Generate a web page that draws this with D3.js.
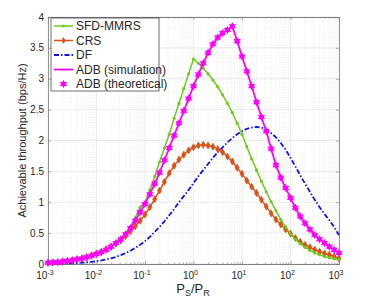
<!DOCTYPE html>
<html>
<head>
<meta charset="utf-8">
<script src="https://cdn.jsdelivr.net/npm/d3@7"></script>
<style>
  body { margin: 0; background: #fff; }
  svg { display: block; font-family: "Liberation Sans", Arial, sans-serif; }
  .tick-label { font-size: 10px; fill: #262626; }
</style>
</head>
<body>
<div id="vis"></div>
<script>
const frame_width = 374;
const frame_height = 305;
const plot = {left: 48, right: 339, top: 17, bottom: 264};

// P_S/P_R sampled in 1 dB steps, from -30 dB to 30 dB
const ratio_db = d3.range(-30, 31);

const sfd_mmrs = [
  0.02, 0.025, 0.03, 0.04, 0.05, 0.06, 0.075, 0.09, 0.11, 0.14,
  0.17, 0.2, 0.24, 0.29, 0.35, 0.42, 0.5, 0.61, 0.75, 0.92,
  1.0, 1.2, 1.42, 1.65, 1.88, 2.1, 2.36, 2.6, 2.84, 3.08,
  3.32, 3.25, 3.17, 3.08, 2.98, 2.87, 2.74, 2.6, 2.45, 2.28,
  2.1, 1.9, 1.7, 1.52, 1.34, 1.17, 1.01, 0.86, 0.72, 0.6,
  0.48, 0.4, 0.33, 0.27, 0.22, 0.18, 0.15, 0.12, 0.1, 0.085,
  0.07
];
const crs = [
  0.02, 0.025, 0.03, 0.04, 0.05, 0.06, 0.075, 0.09, 0.11, 0.14,
  0.17, 0.2, 0.24, 0.28, 0.33, 0.38, 0.45, 0.53, 0.61, 0.7,
  0.8, 0.92, 1.05, 1.19, 1.33, 1.47, 1.59, 1.69, 1.77, 1.84,
  1.89, 1.92, 1.93, 1.92, 1.9, 1.86, 1.81, 1.74, 1.66, 1.56,
  1.46, 1.35, 1.25, 1.15, 1.04, 0.93, 0.82, 0.72, 0.64, 0.56,
  0.49, 0.42, 0.36, 0.31, 0.27, 0.23, 0.2, 0.17, 0.15, 0.12,
  0.09
];
const df = [
  0.003, 0.004, 0.005, 0.007, 0.009, 0.012, 0.016, 0.021, 0.028, 0.036,
  0.046, 0.058, 0.073, 0.092, 0.115, 0.143, 0.176, 0.215, 0.26, 0.31,
  0.37, 0.44, 0.52, 0.6, 0.69, 0.79, 0.89, 1.0, 1.1, 1.2,
  1.31, 1.42, 1.52, 1.62, 1.72, 1.81, 1.89, 1.97, 2.04, 2.1,
  2.15, 2.19, 2.21, 2.22, 2.21, 2.18, 2.12, 2.05, 1.96, 1.85,
  1.72, 1.58, 1.44, 1.3, 1.17, 1.04, 0.92, 0.81, 0.71, 0.6,
  0.47
];
const adb = [
  0.02, 0.025, 0.03, 0.04, 0.05, 0.06, 0.075, 0.09, 0.11, 0.135,
  0.16, 0.19, 0.23, 0.28, 0.34, 0.4, 0.48, 0.58, 0.7, 0.84,
  0.97, 1.13, 1.3, 1.48, 1.68, 1.88, 2.08, 2.28, 2.48, 2.68,
  2.88, 3.07, 3.25, 3.42, 3.56, 3.67, 3.74, 3.79, 3.85, 3.61,
  3.36, 3.12, 2.88, 2.62, 2.38, 2.15, 1.87, 1.6, 1.4, 1.23,
  1.07, 0.91, 0.77, 0.66, 0.56, 0.47, 0.4, 0.34, 0.28, 0.23,
  0.18
];

const x_ticks = [-3, -2, -1, 0, 1, 2, 3];
const y_ticks = [0, 0.5, 1, 1.5, 2, 2.5, 3, 3.5, 4];
const legend_labels = ["SFD-MMRS", "CRS", "DF", "ADB (simulation)", "ADB (theoretical)"];

const colors = {green: "#6ccc1c", orange: "#d95319", blue: "#1010f0", magenta: "#ff00ff"};

const FRAME = d3.select("#vis")
  .append("svg")
    .attr("width", frame_width)
    .attr("height", frame_height);

const x_scale = d3.scaleLog()
  .domain([1e-3, 1e3])
  .range([plot.left, plot.right]);

const y_scale = d3.scaleLinear()
  .domain([0, 4])
  .range([plot.bottom, plot.top]);

const xs = ratio_db.map(d => Math.pow(10, d / 10));

// grid: minor (dotted) then major
const minor = [];
x_ticks.slice(0, -1).forEach(e => {
  for (let m = 2; m < 10; m++) minor.push(m * Math.pow(10, e));
});
FRAME.append("g").selectAll("line")
  .data(minor).enter().append("line")
    .attr("x1", d => x_scale(d)).attr("x2", d => x_scale(d))
    .attr("y1", plot.top).attr("y2", plot.bottom)
    .attr("stroke", "#dcdcdc").attr("stroke-width", 0.6)
    .attr("stroke-dasharray", "1,1.5");

FRAME.append("g").selectAll("line")
  .data(x_ticks).enter().append("line")
    .attr("x1", d => x_scale(Math.pow(10, d))).attr("x2", d => x_scale(Math.pow(10, d)))
    .attr("y1", plot.top).attr("y2", plot.bottom)
    .attr("stroke", "#e2e2e2").attr("stroke-width", 0.7);

FRAME.append("g").selectAll("line")
  .data(y_ticks).enter().append("line")
    .attr("x1", plot.left).attr("x2", plot.right)
    .attr("y1", d => y_scale(d)).attr("y2", d => y_scale(d))
    .attr("stroke", "#e2e2e2").attr("stroke-width", 0.7);

// axes
const axis_color = "#7a7a7a";
const x_axis = FRAME.append("g")
  .attr("transform", "translate(0," + plot.bottom + ")")
  .call(d3.axisBottom(x_scale).tickValues(x_ticks.map(e => Math.pow(10, e))).tickSize(-3).tickFormat(""));
const x_axis_top = FRAME.append("g")
  .attr("transform", "translate(0," + plot.top + ")")
  .call(d3.axisTop(x_scale).tickValues(x_ticks.map(e => Math.pow(10, e))).tickSize(-3).tickFormat(""));
const x_minor_b = FRAME.append("g")
  .attr("transform", "translate(0," + plot.bottom + ")")
  .call(d3.axisBottom(x_scale).tickValues(minor).tickSize(-1.5).tickFormat(""));
const x_minor_t = FRAME.append("g")
  .attr("transform", "translate(0," + plot.top + ")")
  .call(d3.axisTop(x_scale).tickValues(minor).tickSize(-1.5).tickFormat(""));
const y_axis = FRAME.append("g")
  .attr("transform", "translate(" + plot.left + ",0)")
  .call(d3.axisLeft(y_scale).tickValues(y_ticks).tickSize(-3).tickFormat(""));
const y_axis_r = FRAME.append("g")
  .attr("transform", "translate(" + plot.right + ",0)")
  .call(d3.axisRight(y_scale).tickValues(y_ticks).tickSize(-3).tickFormat(""));

[x_axis, x_axis_top, x_minor_b, x_minor_t, y_axis, y_axis_r].forEach(g => {
  g.selectAll("path").attr("stroke", axis_color).attr("stroke-width", 0.8);
  g.selectAll("line").attr("stroke", axis_color).attr("stroke-width", 0.6);
});

// tick labels
x_ticks.forEach(e => {
  const t = FRAME.append("text")
    .attr("class", "tick-label")
    .attr("x", x_scale(Math.pow(10, e)) - 3)
    .attr("y", plot.bottom + 15)
    .attr("text-anchor", "middle");
  t.append("tspan").text("10");
  t.append("tspan").attr("dy", -4).attr("font-size", "7px").text(e);
});

FRAME.append("g").selectAll("text")
  .data(y_ticks).enter().append("text")
    .attr("class", "tick-label")
    .attr("x", plot.left - 4)
    .attr("y", d => y_scale(d) + 3.5)
    .attr("text-anchor", "end")
    .text(d => d);

// axis titles
const xlab = FRAME.append("text")
  .attr("x", 193).attr("y", 293)
  .attr("text-anchor", "middle")
  .attr("font-size", "13px").attr("fill", "#262626");
xlab.append("tspan").text("P");
xlab.append("tspan").attr("dy", 3).attr("font-size", "9px").text("S");
xlab.append("tspan").attr("dy", -3).text("/P");
xlab.append("tspan").attr("dy", 3).attr("font-size", "9px").text("R");

FRAME.append("text")
  .attr("transform", "translate(26," + ((plot.top + plot.bottom) / 2) + ") rotate(-90)")
  .attr("text-anchor", "middle")
  .attr("font-size", "11px").attr("fill", "#262626")
  .text("Achievable throughput (bps/Hz)");

// series
const line = d3.line()
  .x((d, i) => x_scale(xs[i]))
  .y(d => y_scale(d));

const plot_g = FRAME.append("g");

function hexagram(r) {
  // six-pointed star
  const pts = [];
  for (let k = 0; k < 12; k++) {
    const rr = k % 2 === 0 ? r : r * 0.55;
    const a = Math.PI / 2 + k * Math.PI / 6;
    pts.push([rr * Math.cos(a), -rr * Math.sin(a)]);
  }
  return "M" + pts.map(p => p[0].toFixed(2) + "," + p[1].toFixed(2)).join("L") + "Z";
}
const star_path = hexagram(4.2);
const diamond_path = d3.symbol().type(d3.symbolDiamond).size(14)();

// DF (dash-dot)
plot_g.append("path")
  .attr("d", line(df))
  .attr("fill", "none").attr("stroke", colors.blue)
  .attr("stroke-width", 1.8).attr("stroke-dasharray", "5,2,1.5,2");

// CRS
plot_g.append("path")
  .attr("d", line(crs))
  .attr("fill", "none").attr("stroke", colors.orange).attr("stroke-width", 1.5);
plot_g.append("g").selectAll("path")
  .data(crs).enter().append("path")
    .attr("d", diamond_path)
    .attr("transform", (d, i) => "translate(" + x_scale(xs[i]) + "," + y_scale(d) + ")")
    .attr("fill", colors.orange).attr("stroke", colors.orange).attr("stroke-width", 0.8);

// SFD-MMRS
plot_g.append("path")
  .attr("d", line(sfd_mmrs))
  .attr("fill", "none").attr("stroke", colors.green).attr("stroke-width", 1.5);
plot_g.append("g").selectAll("circle")
  .data(sfd_mmrs).enter().append("circle")
    .attr("cx", (d, i) => x_scale(xs[i]))
    .attr("cy", d => y_scale(d))
    .attr("r", 1.6)
    .attr("fill", colors.green);

// ADB simulation line + theoretical markers
plot_g.append("path")
  .attr("d", line(adb))
  .attr("fill", "none").attr("stroke", colors.magenta).attr("stroke-width", 1.8);
plot_g.append("g").selectAll("path")
  .data(adb).enter().append("path")
    .attr("d", star_path)
    .attr("transform", (d, i) => "translate(" + x_scale(xs[i]) + "," + y_scale(d) + ")")
    .attr("fill", colors.magenta);

// legend
const legend = FRAME.append("g").attr("transform", "translate(51,18)");
legend.append("rect")
  .attr("width", 108).attr("height", 73)
  .attr("fill", "#fff").attr("stroke", "#333").attr("stroke-width", 0.7);

legend_labels.forEach((label, i) => {
  const y = 8 + i * 14.5;
  const row = legend.append("g");
  if (i === 0) {
    row.append("line").attr("x1", 3).attr("x2", 22).attr("y1", y).attr("y2", y)
      .attr("stroke", colors.green).attr("stroke-width", 1.5);
    row.append("circle").attr("cx", 12.5).attr("cy", y).attr("r", 1.6).attr("fill", colors.green);
  } else if (i === 1) {
    row.append("line").attr("x1", 3).attr("x2", 22).attr("y1", y).attr("y2", y)
      .attr("stroke", colors.orange).attr("stroke-width", 1.5);
    row.append("path").attr("d", diamond_path).attr("transform", "translate(12.5," + y + ")")
      .attr("fill", colors.orange);
  } else if (i === 2) {
    row.append("line").attr("x1", 3).attr("x2", 22).attr("y1", y).attr("y2", y)
      .attr("stroke", colors.blue).attr("stroke-width", 1.8).attr("stroke-dasharray", "5,2,1.5,2");
  } else if (i === 3) {
    row.append("line").attr("x1", 3).attr("x2", 22).attr("y1", y).attr("y2", y)
      .attr("stroke", colors.magenta).attr("stroke-width", 1.8);
  } else {
    row.append("path").attr("d", star_path).attr("transform", "translate(12.5," + y + ")")
      .attr("fill", colors.magenta);
  }
  row.append("text")
    .attr("x", 25).attr("y", y + 4)
    .attr("font-size", "12px").attr("fill", "#262626")
    .text(label);
});
</script>
</body>
</html>
